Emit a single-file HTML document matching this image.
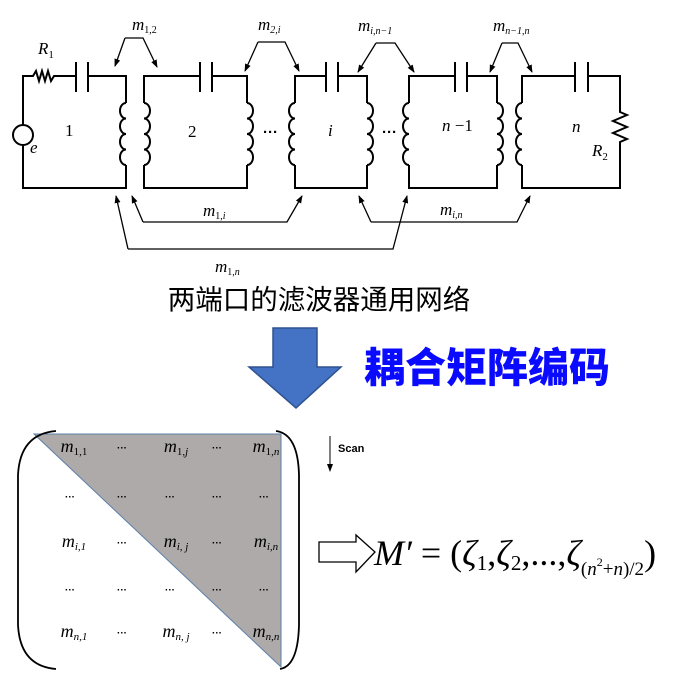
<!DOCTYPE html>
<html><head><meta charset="utf-8"><style>
html,body{margin:0;padding:0;background:#fff;}
svg{display:block;}
.it{font-family:"Liberation Serif",serif;font-style:italic;}
.rm{font-family:"Liberation Serif",serif;}
</style></head><body>
<svg width="688" height="684" viewBox="0 0 688 684" xmlns="http://www.w3.org/2000/svg">
<defs>
<marker id="ah2" markerWidth="8" markerHeight="8" refX="7" refY="4" orient="auto" markerUnits="userSpaceOnUse">
<path d="M0,1 L8,4 L0,7 z" fill="#000"/></marker>
</defs>
<g fill="none" stroke="#000" stroke-width="2">
<path d="M23,125 V76 H33 l3,-5 l3,10 l3,-10 l3,10 l3,-10 l3,10 l3,-5 H76 M88,76 H126 V103 M126,165 V188 H23 V145"/>
<path d="M76,62 V92 M88,62 V92"/>
<circle cx="23" cy="135" r="10"/>
<path d="M126,103 a6,7.75 0 0 0 0,15.5 a6,7.75 0 0 0 0,15.5 a6,7.75 0 0 0 0,15.5 a6,7.75 0 0 0 0,15.5"/>
<path d="M144,103 V76 H200 M212,76 H247 V103 M247,165 V188 H144 V165"/>
<path d="M200,62 V92 M212,62 V92"/>
<path d="M144,103 a6,7.75 0 0 1 0,15.5 a6,7.75 0 0 1 0,15.5 a6,7.75 0 0 1 0,15.5 a6,7.75 0 0 1 0,15.5"/>
<path d="M247,103 a6,7.75 0 0 1 0,15.5 a6,7.75 0 0 1 0,15.5 a6,7.75 0 0 1 0,15.5 a6,7.75 0 0 1 0,15.5"/>
<path d="M295,103 V76 H326 M338,76 H367 V103 M367,165 V188 H295 V165"/>
<path d="M326,62 V92 M338,62 V92"/>
<path d="M295,103 a6,7.75 0 0 0 0,15.5 a6,7.75 0 0 0 0,15.5 a6,7.75 0 0 0 0,15.5 a6,7.75 0 0 0 0,15.5"/>
<path d="M367,103 a6,7.75 0 0 1 0,15.5 a6,7.75 0 0 1 0,15.5 a6,7.75 0 0 1 0,15.5 a6,7.75 0 0 1 0,15.5"/>
<path d="M409,103 V76 H455 M467,76 H497 V103 M497,165 V188 H409 V165"/>
<path d="M455,62 V92 M467,62 V92"/>
<path d="M409,103 a6,7.75 0 0 0 0,15.5 a6,7.75 0 0 0 0,15.5 a6,7.75 0 0 0 0,15.5 a6,7.75 0 0 0 0,15.5"/>
<path d="M497,103 a6,7.75 0 0 1 0,15.5 a6,7.75 0 0 1 0,15.5 a6,7.75 0 0 1 0,15.5 a6,7.75 0 0 1 0,15.5"/>
<path d="M522,103 V76 H575 M588,76 H620 V112 l7,3 l-14,6 l14,6 l-14,6 l14,6 l-7,3 V188 H522 V165"/>
<path d="M575,62 V92 M588,62 V92"/>
<path d="M522,103 a6,7.75 0 0 0 0,15.5 a6,7.75 0 0 0 0,15.5 a6,7.75 0 0 0 0,15.5 a6,7.75 0 0 0 0,15.5"/>
</g>
<g fill="none" stroke="#000" stroke-width="1.3">
<path d="M125,38 L115,66" marker-end="url(#ah2)"/>
<path d="M125,38 H143 L157,67" marker-end="url(#ah2)"/>
<path d="M258,42 L245,71" marker-end="url(#ah2)"/>
<path d="M258,42 H285 L299,71" marker-end="url(#ah2)"/>
<path d="M376,43 L358,72" marker-end="url(#ah2)"/>
<path d="M376,43 H395 L414,72" marker-end="url(#ah2)"/>
<path d="M502,43 L490,72" marker-end="url(#ah2)"/>
<path d="M502,43 H518 L532,72" marker-end="url(#ah2)"/>
<path d="M143,222 L132,196" marker-end="url(#ah2)"/>
<path d="M143,222 H287 L302,196" marker-end="url(#ah2)"/>
<path d="M128,249 L116,196" marker-end="url(#ah2)"/>
<path d="M128,249 H393 L407,196" marker-end="url(#ah2)"/>
<path d="M371,222 L359,196" marker-end="url(#ah2)"/>
<path d="M371,222 H517 L530,196" marker-end="url(#ah2)"/>
</g>
<g font-size="17">
<text x="38" y="54" class="it">R<tspan font-size="11" dy="4" font-style="normal">1</tspan></text>
<text x="30" y="153" class="it">e</text>
<text x="65" y="136" class="rm">1</text>
<text x="188" y="137" class="rm">2</text>
<text x="328" y="136" class="it">i</text>
<text x="442" y="131" class="it">n<tspan font-style="normal"> −1</tspan></text>
<text x="572" y="132" class="it">n</text>
<text x="592" y="156" class="it">R<tspan font-size="11" dy="4" font-style="normal">2</tspan></text>
<text x="263" y="137" font-family="Liberation Sans" font-weight="bold" font-size="15">···</text>
<text x="382" y="137" font-family="Liberation Sans" font-weight="bold" font-size="15">···</text>
<text x="132" y="30" class="it">m<tspan font-size="10" dy="3" font-style="normal">1,2</tspan></text>
<text x="258" y="30" class="it">m<tspan font-size="10" dy="3">2,<tspan font-style="italic">i</tspan></tspan></text>
<text x="358" y="31" class="it">m<tspan font-size="10" dy="3">i,n−1</tspan></text>
<text x="493" y="31" class="it">m<tspan font-size="10" dy="3">n−1,n</tspan></text>
<text x="203" y="216" class="it">m<tspan font-size="10" dy="3" font-style="normal">1,<tspan font-style="italic">i</tspan></tspan></text>
<text x="440" y="215" class="it">m<tspan font-size="10" dy="3">i,n</tspan></text>
<text x="215" y="272" class="it">m<tspan font-size="10" dy="3" font-style="normal">1,<tspan font-style="italic">n</tspan></tspan></text>
</g>
<text x="319" y="309" text-anchor="middle" font-family="Liberation Sans, Noto Sans CJK SC, sans-serif" font-size="27.5">两端口的滤波器通用网络</text>
<path d="M273,328 H317 V367 H341 L296,408 L249,367 H273 Z" fill="#4472c4" stroke="#2f528f" stroke-width="1.5"/>
<text x="364" y="382" font-family="Noto Sans CJK SC, sans-serif" font-weight="900" font-size="41" fill="#0a0aff">耦合矩阵编码</text>
<path d="M34,434 H281 V667 Z" fill="#aeaaaa" stroke="#5b7fa8" stroke-width="1"/>
<g fill="none" stroke="#000" stroke-width="1.8">
<path d="M56,431 Q20,434 18,475 V625 Q20,666 56,669"/>
<path d="M276,431 Q298,434 299,475 V625 Q298,666 280,669"/>
</g>
<g font-size="18" class="it" text-anchor="middle">
<text x="74" y="452">m<tspan font-size="11" dy="3" font-style="normal">1,1</tspan></text>
<text x="176" y="452">m<tspan font-size="11" dy="3" font-style="normal">1,<tspan font-style="italic">j</tspan></tspan></text>
<text x="266" y="452">m<tspan font-size="11" dy="3" font-style="normal">1,<tspan font-style="italic">n</tspan></tspan></text>
<text x="74" y="547">m<tspan font-size="11" dy="3">i,1</tspan></text>
<text x="176" y="547">m<tspan font-size="11" dy="3">i, j</tspan></text>
<text x="266" y="547">m<tspan font-size="11" dy="3">i,n</tspan></text>
<text x="74" y="637">m<tspan font-size="11" dy="3">n,1</tspan></text>
<text x="176" y="637">m<tspan font-size="11" dy="3">n, j</tspan></text>
<text x="266" y="637">m<tspan font-size="11" dy="3">n,n</tspan></text>
</g>
<g font-family="Liberation Sans" font-weight="bold" font-size="10" text-anchor="middle">
<text x="122" y="451">···</text><text x="217" y="451">···</text>
<text x="70" y="500">···</text><text x="122" y="500">···</text><text x="170" y="500">···</text><text x="217" y="500">···</text><text x="264" y="500">···</text>
<text x="122" y="546">···</text><text x="217" y="546">···</text>
<text x="70" y="593">···</text><text x="122" y="593">···</text><text x="170" y="593">···</text><text x="217" y="593">···</text><text x="264" y="593">···</text>
<text x="122" y="636">···</text><text x="217" y="636">···</text>
</g>
<path d="M330,436 V471" stroke="#000" stroke-width="1" marker-end="url(#ah2)"/>
<text x="338" y="452" font-family="Liberation Sans" font-size="11" font-weight="bold">Scan</text>
<path d="M319,542 H356 V535 L375,552 L356,572 V562 H319 Z" fill="#fff" stroke="#000" stroke-width="1.3"/>
<text x="374" y="565" font-family="Liberation Serif" font-size="36"><tspan font-style="italic">M′</tspan> = (<tspan font-style="italic">ζ</tspan><tspan font-size="21" dy="5">1</tspan><tspan dy="-5">,</tspan><tspan font-style="italic">ζ</tspan><tspan font-size="21" dy="5">2</tspan><tspan dy="-5">,...,</tspan><tspan font-style="italic">ζ</tspan><tspan font-size="19" dy="10">(<tspan font-style="italic">n</tspan><tspan font-size="12" dy="-9">2</tspan><tspan dy="9">+</tspan><tspan font-style="italic">n</tspan>)/2</tspan><tspan dy="-10">)</tspan></text>
</svg>
</body></html>
